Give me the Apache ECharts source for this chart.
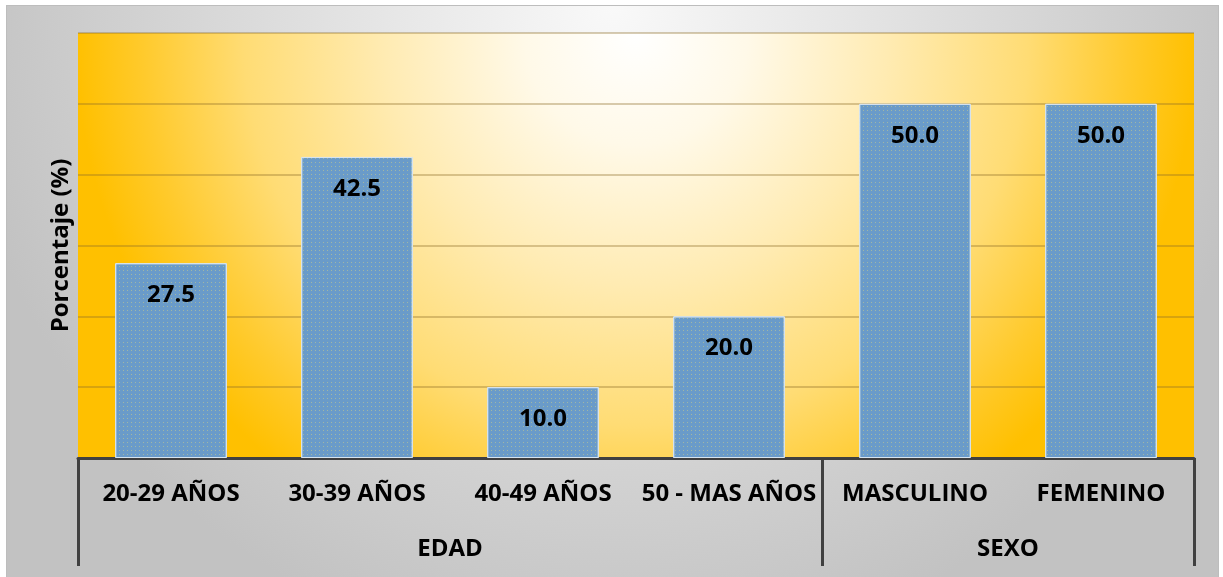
<!DOCTYPE html>
<html>
<head>
<meta charset="utf-8">
<script src="https://cdn.jsdelivr.net/npm/echarts@6/dist/echarts.min.js"></script>
<style>
  html, body { margin: 0; padding: 0; background: #ffffff; }
  #chart {
    position: absolute; left: 6px; top: 5px;
    width: 1213px; height: 575px;
    border: 1px solid #bdbdbd; box-sizing: border-box;
  }
</style>
</head>
<body>
<div id="chart"></div>
<script>
// datos del grafico
const categories = ['20-29 AÑOS', '30-39 AÑOS', '40-49 AÑOS', '50 - MAS AÑOS', 'MASCULINO', 'FEMENINO']
const values = [27.5, 42.5, 10.0, 20.0, 50.0, 50.0]
const groups = ['EDAD', 'SEXO']
const groupSizes = [4, 2]

// limites y centros de cada grupo (en unidades de categoria)
const bounds = [0]
groupSizes.forEach(n => bounds.push(bounds[bounds.length - 1] + n))
const centers = groupSizes.map((n, i) => bounds[i] + n / 2)

const font = '"Open Sans"'
const weight = 'bold'
const size = 24
const chart = echarts.init(document.getElementById('chart'))

const option = {
    backgroundColor: {
        type: 'radial', x: 0.5, y: 0, r: 1.15,
        colorStops: [
            { offset: 0, color: '#f9f9f9' },
            { offset: 1, color: '#c2c2c2' }
        ]
    },
    textStyle: { fontFamily: font },
    grid: {
        left: 71, right: 24, top: 27, bottom: 121,
        show: true,
        borderWidth: 0,
        backgroundColor: {
            type: 'radial', x: 0.5, y: 0, r: 1.32,
            colorStops: [
                { offset: 0, color: '#ffffff' },
                { offset: 0.2, color: '#fff9e8' },
                { offset: 0.45, color: '#ffebb2' },
                { offset: 0.7, color: '#ffdc74' },
                { offset: 0.88, color: '#ffca2c' },
                { offset: 1, color: '#ffc000' }
            ]
        }
    },
    xAxis: [
        {
            type: 'category',
            data: categories,
            axisLine: { show: true, lineStyle: { color: '#404040', width: 3 } },
            axisTick: { show: false },
            axisLabel: {
                interval: 0,
                margin: 24,
                color: '#000',
                fontFamily: font,
                fontWeight: weight,
                fontSize: size
            }
        },
        {
            // eje de grupos (EDAD / SEXO)
            type: 'value',
            min: 0,
            max: categories.length,
            position: 'bottom',
            axisLine: { show: false },
            splitLine: { show: false },
            axisTick: {
                show: true,
                customValues: bounds,
                length: 108,
                lineStyle: { color: '#404040', width: 3 }
            },
            axisLabel: {
                customValues: centers,
                margin: 79,
                color: '#000',
                fontFamily: font,
                fontWeight: weight,
                fontSize: size,
                formatter: function (v) {
                    const i = centers.indexOf(v)
                    return i >= 0 ? groups[i] : ''
                }
            }
        }
    ],
    yAxis: {
        type: 'value',
        min: 0,
        max: 60,
        interval: 10,
        name: 'Porcentaje (%)',
        nameLocation: 'middle',
        nameGap: 5,
        nameTextStyle: {
            color: '#000',
            fontFamily: font,
            fontWeight: weight,
            fontSize: size
        },
        axisLine: { show: false },
        axisTick: { show: false },
        axisLabel: { show: false },
        splitLine: {
            show: true,
            lineStyle: { color: 'rgba(140,110,40,0.35)', width: 2 }
        }
    },
    series: [
        {
            name: 'Porcentaje',
            type: 'bar',
            xAxisIndex: 0,
            data: values,
            barWidth: '60%',
            itemStyle: {
                color: '#6a9bc9',
                borderColor: '#d6e4f0',
                borderWidth: 1,
                decal: {
                    symbol: 'rect',
                    symbolSize: 1,
                    color: 'rgba(185,195,150,0.7)',
                    dashArrayX: [1, 3],
                    dashArrayY: [1, 3]
                }
            },
            label: {
                show: true,
                position: 'insideTop',
                distance: 20,
                color: '#000',
                fontFamily: font,
                fontWeight: weight,
                fontSize: size,
                formatter: function (p) {
                    return p.value.toFixed(1)
                }
            }
        }
    ]
}

chart.setOption(option)
</script>
</body>
</html>
